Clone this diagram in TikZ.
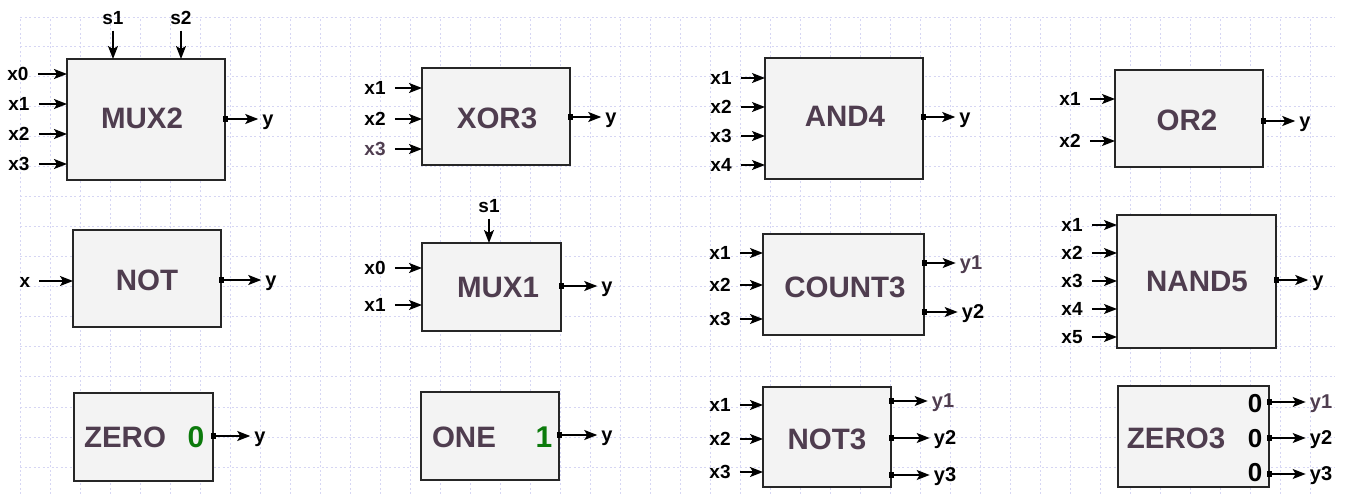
\documentclass[tikz,border=0pt]{standalone}
\usepackage{fontspec}
\setmainfont{Liberation Sans}
\usepackage{tikz}
\usetikzlibrary{arrows.meta}

\definecolor{plum}{HTML}{4F3D4F}
\definecolor{boxfill}{HTML}{F3F3F3}
\definecolor{gridblue}{HTML}{D6D6F3}
\definecolor{constgreen}{HTML}{0B7A0B}

\tikzset{
  gridline/.style={gridblue, line width=1pt, dash pattern=on 2pt off 2.5pt},
  block/.style={draw=black!85, fill=boxfill, line width=1.5pt, outer sep=0pt, inner sep=0pt},
  blockname/.style={text=plum, inner sep=0pt, font=\fontsize{29.5}{30}\selectfont\bfseries},
  inlabel/.style={inner xsep=9pt, inner ysep=0pt, text height=13pt, text depth=0pt, font=\fontsize{19}{20}\selectfont\bfseries},
  sellabel/.style={inner xsep=0pt, inner ysep=6pt, text height=13pt, text depth=0pt, font=\fontsize{19}{20}\selectfont\bfseries},
  outlabel/.style={inner xsep=4pt, inner ysep=0pt, text height=13pt, text depth=0pt, font=\fontsize{20}{20}\selectfont\bfseries},
  constval/.style={inner sep=0pt, font=\fontsize{26}{28}\selectfont\bfseries},
  constgr/.style={inner sep=0pt, text=constgreen, font=\fontsize{30}{32}\selectfont\bfseries},
  wirein/.style={line width=1.4pt, -{Stealth[length=13pt,width=10pt,inset=3pt]}},
  wireout/.style={line width=1.4pt, shorten <=-2.5pt, {Square[length=5.5pt,width=6pt]}-{Stealth[length=13pt,width=10pt,inset=3pt]}}
}

\begin{document}
\begin{tikzpicture}[x=1pt,y=-1pt]
    \useasboundingbox (0,0) rectangle (1350,494);
    \draw[gridline, shift={(20,467)}, y=1pt, step=30] (0,-27) grid (1315,450);

    % first column
    \node[block, minimum width=158pt, minimum height=121pt] (mux2) at (146,119.5) {};
    \node[blockname] (mux2name) at (142,118) {MUX2};
    \node[sellabel] (mux2s1) at (113,18) {s1};
    \node[sellabel] (mux2s2) at (181,18) {s2};
    \node[inlabel] (mux2x0) at (18,74) {x0};
    \node[inlabel] (mux2x1) at (19,104) {x1};
    \node[inlabel] (mux2x2) at (19,134) {x2};
    \node[inlabel] (mux2x3) at (19,164) {x3};
    \node[outlabel] (mux2y) at (268,119) {y};
    \draw[wirein] (mux2s1) -- (mux2s1 |- mux2.north);
    \draw[wirein] (mux2s2) -- (mux2s2 |- mux2.north);
    \draw[wirein] (mux2x0) -- (mux2x0 -| mux2.west);
    \draw[wirein] (mux2x1) -- (mux2x1 -| mux2.west);
    \draw[wirein] (mux2x2) -- (mux2x2 -| mux2.west);
    \draw[wirein] (mux2x3) -- (mux2x3 -| mux2.west);
    \draw[wireout] (mux2y -| mux2.east) -- (mux2y);

    \node[block, minimum width=148pt, minimum height=97pt] (not) at (147,278.5) {};
    \node[blockname] (notname) at (147,280) {NOT};
    \node[inlabel] (notx) at (25,281) {x};
    \node[outlabel] (noty) at (271,280) {y};
    \draw[wirein] (notx) -- (notx -| not.west);
    \draw[wireout] (noty -| not.east) -- (noty);

    \node[block, minimum width=139pt, minimum height=88pt] (zero) at (143.5,437) {};
    \node[blockname] (zeroname) at (125,437) {ZERO};
    \node[constgr] (zeroval) at (196,437) {0};
    \node[outlabel] (zeroy) at (260,436) {y};
    \draw[wireout] (zeroy -| zero.east) -- (zeroy);

    % second column
    \node[block, minimum width=148pt, minimum height=97pt] (xor3) at (496,116.5) {};
    \node[blockname] (xor3name) at (497,118) {XOR3};
    \node[inlabel] (xor3x1) at (375,88) {x1};
    \node[inlabel] (xor3x2) at (375,119) {x2};
    \node[inlabel, text=plum] (xor3x3) at (375,149) {x3};
    \node[outlabel] (xor3y) at (611,117) {y};
    \draw[wirein] (xor3x1) -- (xor3x1 -| xor3.west);
    \draw[wirein] (xor3x2) -- (xor3x2 -| xor3.west);
    \draw[wirein] (xor3x3) -- (xor3x3 -| xor3.west);
    \draw[wireout] (xor3y -| xor3.east) -- (xor3y);

    \node[block, minimum width=139pt, minimum height=88pt] (mux1) at (491.5,287) {};
    \node[blockname] (mux1name) at (498,287) {MUX1};
    \node[sellabel] (mux1s1) at (489,206) {s1};
    \node[inlabel] (mux1x0) at (375,268) {x0};
    \node[inlabel] (mux1x1) at (375,305) {x1};
    \node[outlabel] (mux1y) at (607,286) {y};
    \draw[wirein] (mux1s1) -- (mux1s1 |- mux1.north);
    \draw[wirein] (mux1x0) -- (mux1x0 -| mux1.west);
    \draw[wirein] (mux1x1) -- (mux1x1 -| mux1.west);
    \draw[wireout] (mux1y -| mux1.east) -- (mux1y);

    \node[block, minimum width=138pt, minimum height=88pt] (one) at (490,436) {};
    \node[blockname] (onename) at (464,437) {ONE};
    \node[constgr] (oneval) at (544,437) {1};
    \node[outlabel] (oney) at (607,435) {y};
    \draw[wireout] (oney -| one.east) -- (oney);

    % third column
    \node[block, minimum width=158pt, minimum height=121pt] (and4) at (844,118.5) {};
    \node[blockname] (and4name) at (845,116) {AND4};
    \node[inlabel] (and4x1) at (721,78) {x1};
    \node[inlabel] (and4x2) at (721,107) {x2};
    \node[inlabel] (and4x3) at (721,136) {x3};
    \node[inlabel] (and4x4) at (721,165) {x4};
    \node[outlabel] (and4y) at (965,117) {y};
    \draw[wirein] (and4x1) -- (and4x1 -| and4.west);
    \draw[wirein] (and4x2) -- (and4x2 -| and4.west);
    \draw[wirein] (and4x3) -- (and4x3 -| and4.west);
    \draw[wirein] (and4x4) -- (and4x4 -| and4.west);
    \draw[wireout] (and4y -| and4.east) -- (and4y);

    \node[block, minimum width=161pt, minimum height=101pt] (count3) at (843.5,284.5) {};
    \node[blockname] (count3name) at (845,287) {COUNT3};
    \node[inlabel] (count3x1) at (720,253) {x1};
    \node[inlabel] (count3x2) at (720,285) {x2};
    \node[inlabel] (count3x3) at (720,319) {x3};
    \node[outlabel, text=plum] (count3y1) at (971,263) {y1};
    \node[outlabel] (count3y2) at (973,312) {y2};
    \draw[wirein] (count3x1) -- (count3x1 -| count3.west);
    \draw[wirein] (count3x2) -- (count3x2 -| count3.west);
    \draw[wirein] (count3x3) -- (count3x3 -| count3.west);
    \draw[wireout] (count3y1 -| count3.east) -- (count3y1);
    \draw[wireout] (count3y2 -| count3.east) -- (count3y2);

    \node[block, minimum width=128pt, minimum height=100pt] (not3) at (827,437) {};
    \node[blockname] (not3name) at (827,439) {NOT3};
    \node[inlabel] (not3x1) at (720,405) {x1};
    \node[inlabel] (not3x2) at (720,439) {x2};
    \node[inlabel] (not3x3) at (720,472) {x3};
    \node[outlabel, text=plum] (not3y1) at (943,401) {y1};
    \node[outlabel] (not3y2) at (945,438) {y2};
    \node[outlabel] (not3y3) at (945,475) {y3};
    \draw[wirein] (not3x1) -- (not3x1 -| not3.west);
    \draw[wirein] (not3x2) -- (not3x2 -| not3.west);
    \draw[wirein] (not3x3) -- (not3x3 -| not3.west);
    \draw[wireout] (not3y1 -| not3.east) -- (not3y1);
    \draw[wireout] (not3y2 -| not3.east) -- (not3y2);
    \draw[wireout] (not3y3 -| not3.east) -- (not3y3);

    % fourth column
    \node[block, minimum width=148pt, minimum height=97pt] (or2) at (1189,118.5) {};
    \node[blockname] (or2name) at (1187,120) {OR2};
    \node[inlabel] (or2x1) at (1070,99) {x1};
    \node[inlabel] (or2x2) at (1070,141) {x2};
    \node[outlabel] (or2y) at (1305,121) {y};
    \draw[wirein] (or2x1) -- (or2x1 -| or2.west);
    \draw[wirein] (or2x2) -- (or2x2 -| or2.west);
    \draw[wireout] (or2y -| or2.east) -- (or2y);

    \node[block, minimum width=159pt, minimum height=133pt] (nand5) at (1196.5,281.5) {};
    \node[blockname] (nand5name) at (1197,281) {NAND5};
    \node[inlabel] (nand5x1) at (1072,225) {x1};
    \node[inlabel] (nand5x2) at (1072,253) {x2};
    \node[inlabel] (nand5x3) at (1072,281) {x3};
    \node[inlabel] (nand5x4) at (1072,309) {x4};
    \node[inlabel] (nand5x5) at (1072,337) {x5};
    \node[outlabel] (nand5y) at (1318,280) {y};
    \draw[wirein] (nand5x1) -- (nand5x1 -| nand5.west);
    \draw[wirein] (nand5x2) -- (nand5x2 -| nand5.west);
    \draw[wirein] (nand5x3) -- (nand5x3 -| nand5.west);
    \draw[wirein] (nand5x4) -- (nand5x4 -| nand5.west);
    \draw[wirein] (nand5x5) -- (nand5x5 -| nand5.west);
    \draw[wireout] (nand5y -| nand5.east) -- (nand5y);

    \node[block, minimum width=151pt, minimum height=101pt] (zero3) at (1193.5,436.5) {};
    \node[blockname] (zero3name) at (1176,438) {ZERO3};
    \node[constval] (zero3a) at (1255,404) {0};
    \node[constval] (zero3b) at (1255,439) {0};
    \node[constval] (zero3c) at (1255,473) {0};
    \node[outlabel, text=plum] (zero3y1) at (1321,402) {y1};
    \node[outlabel] (zero3y2) at (1321,438) {y2};
    \node[outlabel] (zero3y3) at (1321,474) {y3};
    \draw[wireout] (zero3y1 -| zero3.east) -- (zero3y1);
    \draw[wireout] (zero3y2 -| zero3.east) -- (zero3y2);
    \draw[wireout] (zero3y3 -| zero3.east) -- (zero3y3);
\end{tikzpicture}
\end{document}
